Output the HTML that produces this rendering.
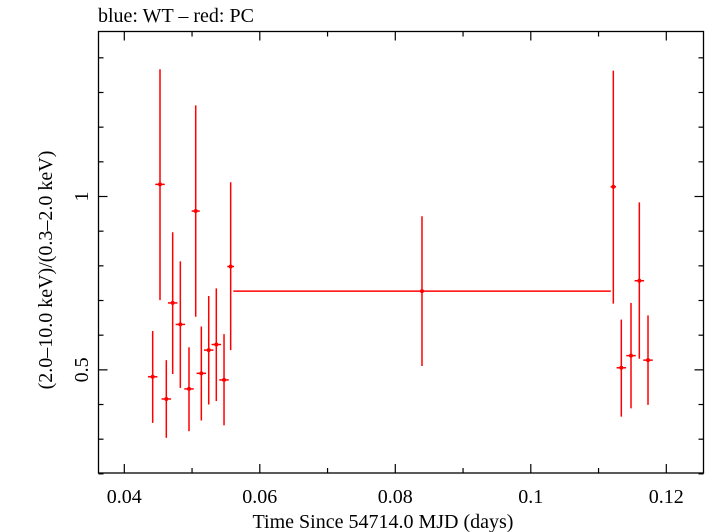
<!DOCTYPE html>
<html><head><meta charset="utf-8"><style>
body{margin:0;background:#fff}
svg{display:block;font-family:"Liberation Serif",serif}
</style></head><body>
<svg id="chart" width="705" height="532" viewBox="0 0 705 532" xmlns="http://www.w3.org/2000/svg">
<text x="98" y="22" font-size="20">blue: WT – red: PC</text>
<rect x="98.5" y="31.5" width="605" height="441.5" fill="none" stroke="#000" stroke-width="1.3"/>
<g id="axes"></g>
<g id="series"></g>
<text x="383" y="528" font-size="20" text-anchor="middle">Time Since 54714.0 MJD (days)</text>
<text transform="translate(52,270) rotate(-90)" font-size="20" text-anchor="middle">(2.0–10.0 keV)/(0.3–2.0 keV)</text>
</svg>
<script>
const xVals=[0.04419,0.04527,0.04620,0.04714,0.04827,0.04955,0.05054,0.05137,0.05246,0.05358,0.05472,0.05570,0.08394,0.11218,0.11336,0.11479,0.11602,0.11730];
const xErrLo=[0.0007,0.0007,0.0007,0.0007,0.0007,0.0007,0.0006,0.0007,0.0007,0.0007,0.0007,0.0005,0.02785,0.0004,0.0007,0.0007,0.0007,0.0007];
const xErrHi=[0.0007,0.0007,0.0007,0.0007,0.0007,0.0007,0.0006,0.0007,0.0007,0.0007,0.0007,0.0005,0.02787,0.0004,0.0007,0.0007,0.0007,0.0007];
const yVals=[0.480,1.035,0.416,0.693,0.631,0.445,0.958,0.490,0.557,0.573,0.471,0.798,0.727,1.028,0.506,0.541,0.757,0.528];
const yHi=[0.612,1.367,0.528,0.897,0.813,0.565,1.263,0.625,0.713,0.735,0.603,1.041,0.943,1.363,0.645,0.693,0.983,0.657];
const yLo=[0.347,0.701,0.304,0.488,0.448,0.323,0.653,0.354,0.400,0.410,0.340,0.557,0.511,0.691,0.365,0.389,0.532,0.399];
const xTickLabels=["0.04","0.06","0.08","0.1","0.12"];
const xTicks=[0.04,0.06,0.08,0.1,0.12];
const xMinor=[0.05,0.07,0.09,0.11];
const yTickLabels=["0.5","1"];
const yTicks=[0.5,1];
const yMinor=[0.2,0.3,0.4,0.6,0.7,0.8,0.9,1.1,1.2,1.3,1.4];

const X=v=>124.3+(v-0.04)*6775;
const Y=v=>196.5-(v-1)*346.7;
const NS="http://www.w3.org/2000/svg";
const L=98.5,R=703.5,T=31.5,B=473;
function mk(tag,attrs,parent){const e=document.createElementNS(NS,tag);for(const k in attrs)e.setAttribute(k,attrs[k]);parent.appendChild(e);return e;}
const axes=document.getElementById('axes');
xTicks.forEach((t,i)=>{
  const x=X(t);
  let e=mk('line',{x1:x,x2:x,y1:B,y2:B-9,stroke:'#000','stroke-width':1.2},axes);
  
  
  e=mk('line',{x1:x,x2:x,y1:T,y2:T+9,stroke:'#000','stroke-width':1.2},axes);
  
  
  e=mk('text',{x:x,y:503,'font-size':20,'text-anchor':'middle'},axes);
  e.textContent=xTickLabels[i];
  
  
});
xMinor.forEach(t=>{
  const x=X(t);
  let e=mk('line',{x1:x,x2:x,y1:B,y2:B-5,stroke:'#000','stroke-width':1.2},axes);
  
  
  e=mk('line',{x1:x,x2:x,y1:T,y2:T+5,stroke:'#000','stroke-width':1.2},axes);
  
  
});
yTicks.forEach((t,i)=>{
  const y=Y(t);
  let e=mk('line',{x1:L,x2:L+9,y1:y,y2:y,stroke:'#000','stroke-width':1.2},axes);
  
  
  e=mk('line',{x1:R,x2:R-9,y1:y,y2:y,stroke:'#000','stroke-width':1.2},axes);
  
  
  e=mk('text',{transform:`translate(88,${y}) rotate(-90)`,'font-size':20,'text-anchor':'middle'},axes);
  e.textContent=yTickLabels[i];
  
  
});
yMinor.forEach(t=>{
  const y=Y(t);
  let e=mk('line',{x1:L,x2:L+5,y1:y,y2:y,stroke:'#000','stroke-width':1.2},axes);
  
  
  e=mk('line',{x1:R,x2:R-5,y1:y,y2:y,stroke:'#000','stroke-width':1.2},axes);
  
  
});
const series=document.getElementById('series');
xVals.forEach((xv,i)=>{
  const g=mk('g',{},series);
  
  
  const x=X(xv),y=Y(yVals[i]);
  mk('line',{x1:x,x2:x,y1:Y(yHi[i]),y2:Y(yLo[i]),stroke:'#f00','stroke-width':1.5},g);
  mk('line',{x1:X(xv-xErrLo[i]),x2:X(xv+xErrHi[i]),y1:y,y2:y,stroke:'#f00','stroke-width':1.5},g);
  mk('circle',{cx:x,cy:y,r:2,fill:'#f00'},g);
});
</script>
</body></html>
